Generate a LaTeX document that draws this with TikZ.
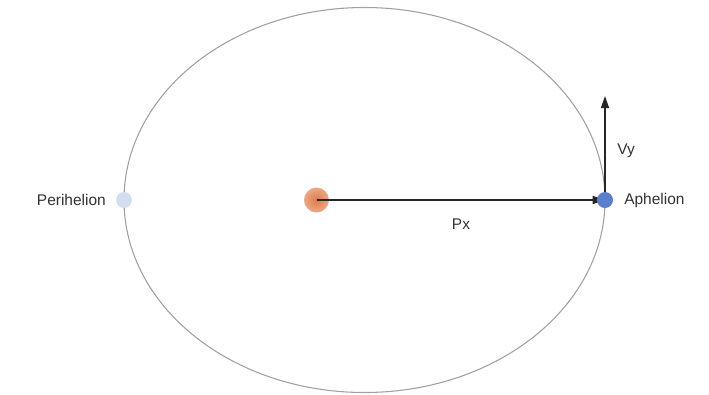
\documentclass[tikz,border=0pt]{standalone}
\usepackage{fontspec}
\setmainfont{Liberation Sans}
\usetikzlibrary{arrows.meta}
\definecolor{orbit}{HTML}{A0A0A0}
\definecolor{txt}{HTML}{333333}
\definecolor{aph}{HTML}{5B7FCC}
\definecolor{peri}{HTML}{D3DDF0}
\definecolor{sunc}{HTML}{E07A48}
\tikzset{
  lbl/.style={text=txt, font=\fontsize{11.6pt}{13pt}\selectfont, inner sep=0pt},
  vec/.style={draw=black!85, line width=1pt, -{Triangle[length=9pt,width=6pt]}},
}
\begin{document}
\begin{tikzpicture}[x=0.75pt,y=-0.75pt]
\useasboundingbox (0,0) rectangle (709,394);
\draw[orbit, line width=0.8pt] (364.5,200) ellipse [x radius=240.5, y radius=192.5];
\coordinate (vtop) at (605,96);
\shade[inner color=sunc, outer color=sunc!65] (316.5,200) circle (12.5);
\node[circle, minimum size=0pt, inner sep=0pt] (sun) at (316.5,200) {};
\node[circle, fill=peri, minimum size=12pt, inner sep=0pt] (peri) at (124,200) {};
\node[circle, minimum size=0pt, inner sep=0pt] (aphc) at (605,200) {};
\draw[vec] (sun) -- (aphc);
\draw[vec] (aphc) -- (vtop);
\node[circle, fill=aph, minimum size=12pt, inner sep=0pt] (aph) at (605,200) {};
\node[lbl, anchor=east] (pl) at (106,200) {Perihelion};
\node[lbl, anchor=west] (al) at (624,200) {Aphelion};
\node[lbl] (px) at (461,224) {Px};
\node[lbl] (vy) at (626,151) {Vy};
\end{tikzpicture}
\end{document}
